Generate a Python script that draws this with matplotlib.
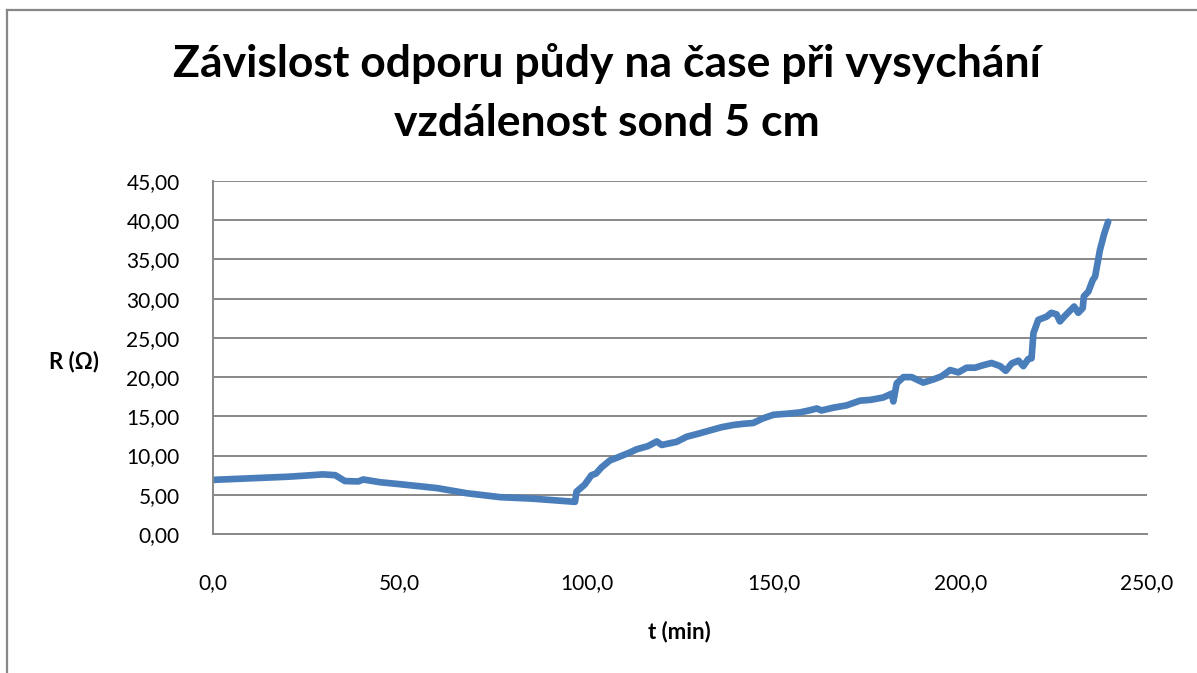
import matplotlib
matplotlib.use("Agg")
import matplotlib.pyplot as plt
from matplotlib.lines import Line2D
from matplotlib.ticker import FuncFormatter

title_line1 = "Závislost odporu půdy na čase při vysychání"
title_line2 = "vzdálenost sond 5 cm"
xlabel = "t (min)"
ylabel = "R (Ω)"

t_min = [0, 5, 10, 15, 20, 25, 29.4, 32.7, 35.3, 38.9, 40.2, 44.7, 50, 55, 60, 67.9,
         76.8, 85.7, 96.9, 97.3, 99.5, 101.3, 102.5, 104, 106.3, 108, 111.6, 113.4,
         116.4, 118.8, 120.1, 124.1, 126.8, 130, 133, 136, 139.3, 142, 144.6, 147,
         150, 154, 157.1, 160, 161.6, 162.9, 166, 169.6, 173.2, 176, 179.4, 181.7,
         182.1, 183, 184.8, 187, 190.1, 192.8, 195, 197.3, 199.5, 201.7, 204, 206,
         208.4, 210.7, 212.2, 213.8, 215.6, 216.9, 218.2, 219.1, 219.6, 220.9,
         223.1, 224.4, 225.8, 226.7, 228, 230.5, 231.6, 232.8, 233.1, 234.3, 235.5,
         236.1, 237.4, 238.5, 239.6]
r_ohm = [6.9, 7.0, 7.1, 7.2, 7.3, 7.45, 7.6, 7.5, 6.75, 6.7, 6.95, 6.6, 6.35, 6.1, 5.85,
         5.2, 4.7, 4.5, 4.1, 5.4, 6.3, 7.5, 7.7, 8.5, 9.4, 9.7, 10.4, 10.8,
         11.2, 11.8, 11.35, 11.75, 12.4, 12.8, 13.2, 13.6, 13.9, 14.05, 14.15, 14.7,
         15.2, 15.35, 15.5, 15.8, 16.0, 15.75, 16.1, 16.4, 17.0, 17.1, 17.4, 17.9,
         16.9, 19.2, 20.0, 20.0, 19.3, 19.7, 20.1, 20.9, 20.6, 21.2, 21.2, 21.5,
         21.8, 21.4, 20.8, 21.75, 22.1, 21.4, 22.3, 22.4, 25.6, 27.3,
         27.7, 28.2, 28.0, 27.1, 27.8, 29.0, 28.2, 28.8, 30.3, 30.9, 32.4,
         32.8, 36.2, 38.2, 39.8]

x_ticks = [0, 50, 100, 150, 200, 250]
y_ticks = [0, 5, 10, 15, 20, 25, 30, 35, 40, 45]

plt.rcParams['font.family'] = ['Lato', 'DejaVu Sans']

fig = plt.figure(figsize=(11.97, 6.73), dpi=100)
ax = fig.add_axes([213/1197, 1 - 534/673, (1147-213)/1197, (534-181)/673])

ax.plot(t_min, r_ohm, color='#4A7EBB', lw=4.8, solid_joinstyle='round', solid_capstyle='round')

ax.set_xlim(0, 250)
ax.set_ylim(0, 45)
ax.set_xticks(x_ticks)
ax.set_yticks(y_ticks)
ax.xaxis.set_major_formatter(FuncFormatter(lambda v, p: f"{v:.1f}".replace('.', ',')))
ax.yaxis.set_major_formatter(FuncFormatter(lambda v, p: f"{v:.2f}".replace('.', ',')))
ax.tick_params(axis='both', length=0, labelsize=15, colors='black')
ax.tick_params(axis='x', pad=28)
ax.tick_params(axis='y', pad=24)
ax.grid(axis='y', color='#888888', lw=1.4)
ax.set_axisbelow(True)
for s in ['top', 'right']:
    ax.spines[s].set_visible(False)
for s in ['left', 'bottom']:
    ax.spines[s].set_color('#888888')
    ax.spines[s].set_linewidth(1.4)

fig.text(607/1197, 1 - 63/673, title_line1, ha='center', va='center', fontsize=32,
         fontweight='bold')
fig.text(607/1197, 1 - 123/673, title_line2, ha='center', va='center', fontsize=32,
         fontweight='bold')
fig.text(679/1197, 1 - 632/673, xlabel, ha='center', va='center', fontsize=16, fontweight='bold')
fig.text(74/1197, 1 - 362/673, ylabel, ha='center', va='center', fontsize=16, fontweight='bold')

fig.add_artist(Line2D([7/1197, 7/1197], [0, 1 - 10/673], transform=fig.transFigure,
                      color='#888888', lw=1.6))
fig.add_artist(Line2D([7/1197, 1], [1 - 10/673, 1 - 10/673], transform=fig.transFigure,
                      color='#888888', lw=1.6))

fig.savefig("out.png", dpi=100)
